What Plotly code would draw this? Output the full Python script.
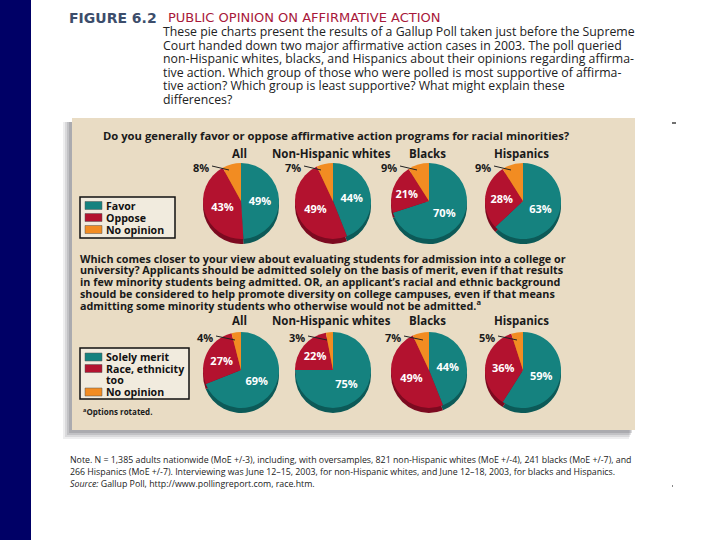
import plotly.graph_objects as go

W, H = 720, 540

# ---------------- data ----------------
groups = ["All", "Non-Hispanic whites", "Blacks", "Hispanics"]
q1_labels = ["Favor", "Oppose", "No opinion"]
q1_favor = [49, 44, 70, 63]
q1_oppose = [43, 49, 21, 28]
q1_noop = [8, 7, 9, 9]

q2_labels = ["Solely merit", "Race, ethnicity<br>too", "No opinion"]
q2_merit = [69, 75, 44, 59]
q2_race = [27, 22, 49, 36]
q2_noop = [4, 3, 7, 5]

# ---------------- style ----------------
TEAL, CRIMSON, ORANGE = "#15827f", "#b3122f", "#f28c22"
DTEAL, DCRIMSON, DORANGE = "#0c5a58", "#7c0a20", "#b8661a"
COLORS = [TEAL, CRIMSON, ORANGE]
PANEL = "#e9dcc4"
FONT = "Open Sans"

def px(x):
    return x / W

def py(y):
    return 1 - y / H

fig = go.Figure()

col_cx = [241, 333, 429, 523]
rows = [
    dict(cy=201, r=38, vals=list(zip(q1_favor, q1_oppose, q1_noop)), labels=q1_labels,
         lab_dx=-40, lab_dy=-34, line_dx=-12, title_dy=-48),
    dict(cy=370, r=38, vals=list(zip(q2_merit, q2_race, q2_noop)), labels=q2_labels,
         lab_dx=-36, lab_dy=-33, line_dx=-6, title_dy=-50),
]
DEPTH = 5

annotations = []
shapes = []

for ri, row in enumerate(rows):
    for gi, cx in enumerate(col_cx):
        cy, r = row["cy"], row["r"]
        vals = list(row["vals"][gi])
        # depth (3D rim) pie
        fig.add_trace(go.Pie(
            values=vals, labels=row["labels"], sort=False, direction="clockwise",
            rotation=0, marker=dict(colors=[DTEAL, DCRIMSON, DORANGE], line=dict(width=0)),
            textinfo="none", hoverinfo="skip", showlegend=False,
            domain=dict(x=[px(cx - r), px(cx + r)], y=[py(cy + DEPTH + r), py(cy + DEPTH - r)]),
        ))
        fig.add_trace(go.Pie(
            values=vals, labels=row["labels"], sort=False, direction="clockwise",
            rotation=0, marker=dict(colors=COLORS, line=dict(width=0)),
            text=[f"{vals[0]}%", f"{vals[1]}%", ""], textinfo="text",
            textposition="inside", insidetextorientation="horizontal",
            textfont=dict(family=FONT, size=11, color="white", weight="bold"),
            showlegend=False,
            domain=dict(x=[px(cx - r), px(cx + r)], y=[py(cy + r), py(cy - r)]),
        ))
        # outside "No opinion" label with leader line
        lx, ly = cx + row["lab_dx"], cy + row["lab_dy"]
        annotations.append(dict(
            x=px(lx), y=py(ly), xref="paper", yref="paper", text=f"{vals[2]}%",
            showarrow=False, xanchor="center", yanchor="middle",
            font=dict(family=FONT, size=11, color="#1a1a1a", weight="bold")))
        shapes.append(dict(type="line", xref="paper", yref="paper",
                           x0=px(lx + 11), y0=py(ly - 1), x1=px(cx + row["line_dx"]), y1=py(ly + 3),
                           line=dict(color="#222", width=1)))
        # group title
        annotations.append(dict(
            x=px(cx - 2), y=py(cy + row["title_dy"]), xref="paper", yref="paper",
            text=groups[gi], showarrow=False, xanchor="center", yanchor="middle",
            font=dict(family=FONT, size=11.5, color="#1a1a1a", weight="bold")))

# ---------------- background shapes ----------------
bg_shapes = [
    dict(type="rect", xref="paper", yref="paper", x0=0, x1=px(31), y0=0, y1=1,
         fillcolor="#000066", line=dict(width=0), layer="below"),
]
for i, op in enumerate([0.10, 0.14, 0.18, 0.22]):
    off = 9 - i * 2
    bg_shapes.append(dict(type="rect", xref="paper", yref="paper",
                          x0=px(72 - off), x1=px(635 - 6 + i), y0=py(430 + off), y1=py(118 + 4),
                          fillcolor=f"rgba(90,90,100,{op})", line=dict(width=0), layer="below"))
bg_shapes.append(dict(type="rect", xref="paper", yref="paper", x0=px(72), x1=px(635),
                      y0=py(430), y1=py(118), fillcolor=PANEL, line=dict(width=0), layer="below"))
bg_shapes.append(dict(type="line", xref="paper", yref="paper", x0=px(672), x1=px(676),
                      y0=py(123), y1=py(123), line=dict(color="#111", width=1.2)))
bg_shapes.append(dict(type="line", xref="paper", yref="paper", x0=px(672), x1=px(673),
                      y0=py(486), y1=py(486), line=dict(color="#111", width=1.2)))

# ---------------- texts ----------------
def txt(x, y, s, size, color="#1a1a1a", bold=False, anchor="left", family=FONT):
    annotations.append(dict(
        x=px(x), y=py(y), xref="paper", yref="paper", text=s, showarrow=False,
        xanchor=anchor, yanchor="middle", align="left", borderpad=0,
        font=dict(family=family, size=size, color=color, weight="bold" if bold else "normal")))

# ---------------- legends (keys) ----------------
def key(x0, y0, x1, y1, labels, ys):
    bg_shapes.append(dict(type="rect", xref="paper", yref="paper", x0=px(x0), x1=px(x1),
                          y0=py(y1), y1=py(y0), fillcolor="#f1ebde",
                          line=dict(color="#111", width=1.5)))
    for lab, c, yy in zip(labels, COLORS, ys):
        bg_shapes.append(dict(type="rect", xref="paper", yref="paper", x0=px(85), x1=px(102),
                              y0=py(yy + 4), y1=py(yy - 4), fillcolor=c,
                              line=dict(color="#555", width=0.5)))
        for k, part in enumerate(lab.split("<br>")):
            txt(105, yy + k * 11.7, part, 10.6, color="#111", bold=True)

key(80, 197, 175, 238, q1_labels, [205.5, 217.5, 229.5])
key(80, 348, 189, 399, q2_labels, [357, 368.5, 392])

txt(68, 18, "FIGURE 6.2", 14, color="#3c4d6b", bold=True, family="DejaVu Sans")
txt(167, 18, "PUBLIC OPINION ON AFFIRMATIVE ACTION", 13, color="#a8183a", family="DejaVu Sans")
para = [
    "These pie charts present the results of a Gallup Poll taken just before the Supreme",
    "Court handed down two major affirmative action cases in 2003. The poll queried",
    "non-Hispanic whites, blacks, and Hispanics about their opinions regarding affirma-",
    "tive action. Which group of those who were polled is most supportive of affirma-",
    "tive action? Which group is least supportive? What might explain these",
    "differences?",
]
for i, line in enumerate(para):
    txt(162, 32 + i * 13.4, line, 12.3, color="#222")

txt(102, 136, "Do you generally favor or oppose affirmative action programs for racial minorities?",
    11.25, bold=True)

q2 = [
    "Which comes closer to your view about evaluating students for admission into a college or",
    "university? Applicants should be admitted solely on the basis of merit, even if that results",
    "in few minority students being admitted. OR, an applicant\u2019s racial and ethnic background",
    "should be considered to help promote diversity on college campuses, even if that means",
    "admitting some minority students who otherwise would not be admitted.<sup>a</sup>",
]
for i, line in enumerate(q2):
    txt(79, 258 + i * 11.8, line, 10.8, bold=True)

txt(82, 411, "<sup>a</sup>Options rotated.", 8, bold=True)

notes = [
    "Note. N = 1,385 adults nationwide (MoE +/-3), including, with oversamples, 821 non-Hispanic whites (MoE +/-4), 241 blacks (MoE +/-7), and",
    "266 Hispanics (MoE +/-7). Interviewing was June 12\u201315, 2003, for non-Hispanic whites, and June 12\u201318, 2003, for blacks and Hispanics.",
]
for i, line in enumerate(notes):
    txt(69, 460 + i * 12, line, 8.8, color="#222")
txt(69, 484, "<i>Source:</i> Gallup Poll, http://www.pollingreport.com, race.htm.", 8.8, color="#222")

fig.update_layout(
    width=W, height=H, margin=dict(l=0, r=0, t=0, b=0),
    paper_bgcolor="white", plot_bgcolor="white",
    shapes=bg_shapes + shapes, annotations=annotations,
    showlegend=False,
)

fig.write_html("out.html", config={"displayModeBar": False},
               post_script="document.body.style.margin='0';")
